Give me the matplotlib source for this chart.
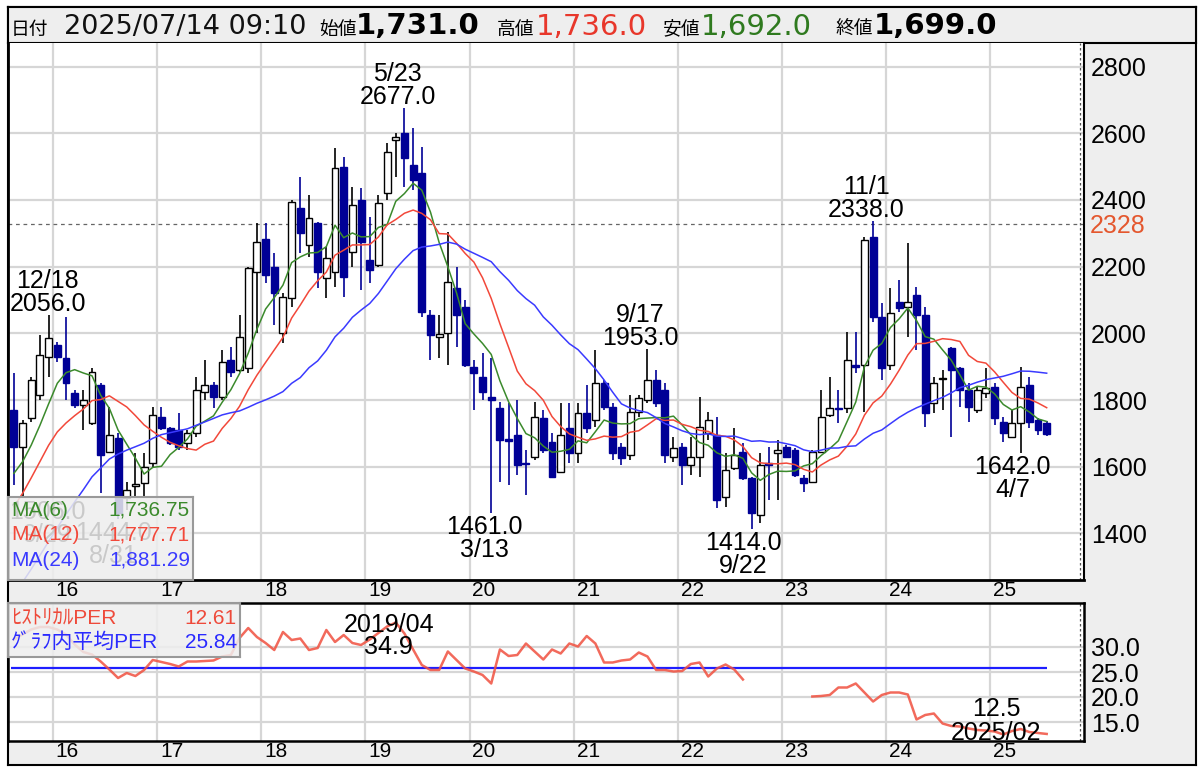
import numpy as np
import pandas as pd
import matplotlib
matplotlib.use("Agg")
import matplotlib.pyplot as plt
import matplotlib.transforms as mtransforms

plt.rcParams['font.family'] = ['Liberation Sans', 'Noto Sans CJK JP']

# ---------------- data ----------------
first_month = "2015-08"          # first monthly candle
opens = [1770, 1660, 1745, 1815, 1930, 1965, 1926, 1820, 1785, 1730,
         1845, 1645, 1686, 1505, 1543, 1550, 1610, 1750, 1715, 1710,
         1670, 1700, 1825, 1845, 1810, 1920, 1890, 1895, 2184, 2283,
         2200, 2000, 2105, 2375, 2265, 2330, 2165, 2185, 2500, 2245,
         2400, 2220, 2205, 2420, 2580, 2600, 2505, 2480, 2055, 1990,
         2000, 2135, 2080, 1900, 1870, 1810, 1775, 1682, 1695, 1612,
         1630, 1745, 1675, 1585, 1715, 1640, 1760, 1740, 1850, 1780,
         1660, 1635, 1765, 1800, 1860, 1830, 1630, 1660, 1605, 1630,
         1700, 1695, 1510, 1595, 1645, 1565, 1455, 1610, 1640, 1660,
         1650, 1565, 1555, 1645, 1755, 1777, 1775, 1905, 1905, 2290,
         2050, 1905, 2095, 2080, 2115, 2055, 1790, 1862, 1955, 1895,
         1830, 1770, 1820, 1840, 1735, 1690, 1730, 1845, 1740, 1731]
highs = [1881, 1740, 1870, 1995, 2056, 1975, 2049, 1830, 1830, 1895,
         1850, 1780, 1700, 1555, 1640, 1640, 1780, 1780, 1720, 1760,
         1710, 1870, 1920, 1855, 1950, 1960, 2055, 2200, 2332, 2332,
         2241, 2121, 2400, 2470, 2415, 2335, 2260, 2555, 2530, 2440,
         2435, 2350, 2415, 2570, 2600, 2677, 2615, 2560, 2070, 2055,
         2305, 2200, 2100, 1920, 1940, 1925, 1795, 1790, 1800, 1650,
         1795, 1770, 1700, 1790, 1790, 1790, 1845, 1950, 1860, 1790,
         1670, 1815, 1815, 1953, 1890, 1850, 1690, 1670, 1690, 1810,
         1765, 1750, 1640, 1715, 1670, 1570, 1640, 1660, 1680, 1665,
         1655, 1575, 1650, 1830, 1870, 1830, 2005, 2005, 2290, 2338,
         2090, 2135, 2160, 2270, 2140, 2080, 1870, 1890, 1960, 1900,
         1850, 1840, 1895, 1850, 1750, 1770, 1900, 1870, 1745, 1736]
lows = [1545, 1506, 1735, 1800, 1870, 1915, 1800, 1775, 1710, 1725,
        1520, 1640, 1444, 1470, 1510, 1510, 1600, 1710, 1665, 1650,
        1650, 1690, 1800, 1775, 1800, 1870, 1885, 1880, 2000, 2150,
        2025, 1970, 2080, 2240, 2230, 2135, 2105, 2140, 2110, 2200,
        2130, 2150, 2200, 2400, 2470, 2440, 2430, 2050, 1920, 1925,
        1905, 1960, 1900, 1770, 1800, 1461, 1555, 1545, 1575, 1515,
        1620, 1640, 1565, 1580, 1610, 1610, 1700, 1720, 1770, 1620,
        1605, 1620, 1750, 1790, 1780, 1610, 1615, 1545, 1575, 1570,
        1680, 1475, 1480, 1590, 1560, 1414, 1430, 1500, 1500, 1625,
        1570, 1525, 1550, 1640, 1750, 1730, 1760, 1880, 1765, 2035,
        1860, 1890, 2065, 1990, 1950, 1720, 1760, 1770, 1690, 1780,
        1735, 1760, 1805, 1725, 1675, 1685, 1642, 1715, 1695, 1692]
closes = [1660, 1730, 1860, 1935, 1986, 1930, 1850, 1785, 1800, 1885,
          1635, 1695, 1460, 1530, 1548, 1600, 1755, 1715, 1670, 1660,
          1700, 1830, 1845, 1810, 1915, 1885, 1990, 2197, 2275, 2175,
          2120, 2110, 2395, 2300, 2345, 2185, 2225, 2495, 2170, 2385,
          2275, 2190, 2390, 2545, 2590, 2525, 2460, 2065, 1995, 1998,
          2155, 2055, 1905, 1880, 1825, 1800, 1680, 1678, 1605, 1608,
          1750, 1650, 1570, 1695, 1640, 1760, 1715, 1850, 1780, 1640,
          1625, 1765, 1805, 1860, 1790, 1635, 1655, 1605, 1630, 1720,
          1740, 1500, 1590, 1635, 1565, 1460, 1605, 1605, 1650, 1630,
          1575, 1550, 1645, 1750, 1775, 1772, 1920, 1900, 2280, 2050,
          1895, 2060, 2075, 2095, 2055, 1760, 1850, 1867, 1890, 1830,
          1780, 1830, 1835, 1745, 1700, 1730, 1840, 1735, 1710, 1699]
prior_closes = [900, 920, 950, 980, 940, 900, 880, 920, 960, 1000, 1050, 1100,
                1250, 1300, 1350, 1400, 1450, 1530,
                1520, 1560, 1580, 1600, 1560]

per = [31.5, 32.5, 33.5, 34.0, 34.0, 33.5, 32.5, 30.5, 29.0, 28.5,
       27.1, 25.5, 23.8, 24.8, 24.2, 25.4, 27.4, 27.0, 26.6, 26.1,
       27.1, 27.1, 27.2, 27.3, 28.1, 28.4, 31.8, 33.8, 32.0, 30.8,
       29.4, 33.0, 31.4, 31.7, 29.4, 29.8, 33.4, 31.0, 32.4, 30.8,
       30.4, 31.5, 32.8, 34.1, 34.9, 32.7, 29.5, 26.4, 25.4, 25.4,
       29.1, 27.4, 25.7, 25.1, 24.4, 22.7, 29.5, 28.2, 28.4, 30.7,
       29.1, 27.5, 29.5, 28.7, 30.7, 30.1, 32.2, 30.7, 26.9, 26.9,
       27.3, 27.5, 28.9, 28.1, 25.4, 25.4, 25.1, 25.2, 26.6, 26.9,
       24.1, 25.7, 26.5, 25.5, 23.5, np.nan, np.nan, np.nan, np.nan, np.nan,
       np.nan, np.nan, 20.1, 20.2, 20.4, 21.9, 21.9, 22.7, 20.9, 19.1,
       20.4, 20.9, 20.9, 20.5, 15.5, 16.4, 16.7, 14.7, 14.2, 14.1,
       13.7, 13.4, 13.3, 13.1, 12.5, 13.2, 13.6, 13.0, 12.8, 12.61]
per_average = 25.84

ma_periods = [6, 12, 24]
ma_values_text = ["1,736.75", "1,777.71", "1,881.29"]
year_labels = ["16", "17", "18", "19", "20", "21", "22", "23", "24", "25"]
price_ticks = [1400, 1600, 1800, 2000, 2200, 2400, 2600, 2800]
per_ticks = [15.0, 20.0, 25.0, 30.0]
reference_price = 2328

# (candle index, date text, horizontal text shift in px)
high_labels = [(4, "12/18", -1), (45, "5/23", -7), (73, "9/17", -7), (99, "11/1", -7)]
low_labels = [(1, "9/29", 25), (12, "8/31", -5), (55, "3/13", -7), (85, "9/22", -8), (116, "4/7", -8)]

header_items = [("日付", "label"), ("2025/07/14 09:10", "date"),
                ("始値", "label"), ("1,731.0", "open"),
                ("高値", "label"), ("1,736.0", "high"),
                ("安値", "label"), ("1,692.0", "low"),
                ("終値", "label"), ("1,699.0", "close")]

# ---------------- style / layout ----------------
W, H = 1200, 767
BG = '#eeeeee'
GRID = '#d6d6d6'
NAVY = '#000096'
C_MA = ['#3b8a2c', '#f2483a', '#3a3aff']
PER_RED = '#f0503f'
AVG_BLUE = '#1e1eff'

n = len(closes)
idx = np.arange(n)
xlim = (-0.68, 123.3)
now_x = 122.8
year_starts = 4.5 + 12 * np.arange(len(year_labels))
year_label_pos = year_starts + 1.67

O = np.array(opens, float); Hh = np.array(highs, float)
L = np.array(lows, float); C = np.array(closes, float)

fig = plt.figure(figsize=(W / 100, H / 100), dpi=100)


def box(x0, y0, x1, y1):
    return [x0 / W, 1 - y1 / H, (x1 - x0) / W, (y1 - y0) / H]


def plain(ax):
    ax.set_xticks([]); ax.set_yticks([])


# background frame
bg = fig.add_axes(box(8, 7, 1196, 765), zorder=0)
bg.set_facecolor(BG); plain(bg)
for s in bg.spines.values():
    s.set_color('black'); s.set_linewidth(1.5)

# header
hd = fig.add_axes(box(8, 7, 1196, 43), zorder=1)
hd.set_facecolor(BG); plain(hd)
for s in hd.spines.values():
    s.set_color('black'); s.set_linewidth(1.5)

hx = [11, 64, 319, 356, 497, 536, 663, 701, 835, 874]
NUMF = ['DejaVu Sans']
styles = {
    "label": dict(size=13.5, color='black'),
    "date": dict(size=19.5, color='#111111', family=NUMF),
    "open": dict(size=21, color='black', weight='bold', family=NUMF),
    "high": dict(size=21, color='#e8372b', family=NUMF),
    "low": dict(size=21, color='#2f7a1f', family=NUMF),
    "close": dict(size=21, color='black', weight='bold', family=NUMF),
}
for (txt, kind), x in zip(header_items, hx):
    fig.text(x / W, 1 - 34.5 / H, txt, ha='left', va='baseline', **styles[kind])

# ---------------- main price panel ----------------
ax = fig.add_axes(box(8, 43, 1084, 580), zorder=2)
ax.set_facecolor('white')
ax.set_xlim(*xlim)
ax.set_ylim(1260.3, 2870.5)
for y in price_ticks:
    ax.axhline(y, color=GRID, lw=1.6, zorder=0)
for x in year_starts:
    ax.axvline(x, color=GRID, lw=1.6, zorder=0)
ax.axhline(reference_price, color='#666666', lw=0.9, ls=(0, (3, 3)), zorder=1)
ax.axvline(now_x, color='#555555', lw=0.9, ls=(0, (2, 2)), zorder=1)

up = C >= O
ax.vlines(idx, L, Hh, colors=np.where(up, 'black', NAVY), lw=1.2, zorder=2)
body_h = np.maximum(np.abs(C - O), 1.5)
ax.bar(idx, body_h, bottom=np.minimum(O, C), width=0.8,
       color=np.where(up, 'white', NAVY), edgecolor=np.where(up, 'black', NAVY),
       lw=1.0, zorder=3)

all_close = pd.Series(list(prior_closes) + list(closes), dtype=float)
for p, col in zip(ma_periods, C_MA):
    ma = all_close.rolling(p).mean().to_numpy()[-n:]
    ax.plot(idx, ma, color=col, lw=1.1, zorder=4)

ax.yaxis.tick_right()
ax.set_yticks(price_ticks)
ax.set_yticklabels([str(t) for t in price_ticks], fontsize=18)
ax.tick_params(axis='y', length=0, pad=5)
ax.set_xticks(year_label_pos)
ax.set_xticklabels(year_labels, fontsize=15)
ax.tick_params(axis='x', length=0, pad=1)
ax.spines['top'].set_visible(False)
ax.spines['left'].set_linewidth(2)
ax.spines['bottom'].set_linewidth(2)
ax.spines['right'].set_linewidth(1.5)

tr = mtransforms.blended_transform_factory(ax.transAxes, ax.transData)
ax.text(1 + 6 / 1076, reference_price, str(reference_price), transform=tr,
        ha='left', va='center_baseline', fontsize=18, color='#e4572e', clip_on=False)

for i, d, dx in high_labels:
    ax.annotate(f"{Hh[i]:.1f}", (i, Hh[i]), xytext=(dx, 4), textcoords='offset pixels',
                ha='center', va='baseline', fontsize=18, zorder=6)
    ax.annotate(d, (i, Hh[i]), xytext=(dx, 27), textcoords='offset pixels',
                ha='center', va='baseline', fontsize=18, zorder=6)
for i, d, dx in low_labels:
    ax.annotate(f"{L[i]:.1f}", (i, L[i]), xytext=(dx, -21), textcoords='offset pixels',
                ha='center', va='baseline', fontsize=18, zorder=6)
    ax.annotate(d, (i, L[i]), xytext=(dx, -44), textcoords='offset pixels',
                ha='center', va='baseline', fontsize=18, zorder=6)

# MA legend box
lg = fig.add_axes(box(8, 497, 193, 580), zorder=3)
plain(lg)
lg.set_facecolor(BG); lg.patch.set_alpha(0.85)
for s in lg.spines.values():
    s.set_color('#999999'); s.set_linewidth(1.5)
for k, (p, col, v) in enumerate(zip(ma_periods, C_MA, ma_values_text)):
    yy = 1 - (13 + 25 * k) / 83
    lg.text(3 / 185, yy, f"MA({p})", color=col, fontsize=15, ha='left', va='center',
            transform=lg.transAxes)
    lg.text(182 / 185, yy, v, color=col, fontsize=15, ha='right', va='center',
            transform=lg.transAxes)

# ---------------- PER panel ----------------
ap = fig.add_axes(box(8, 603, 1084, 741), zorder=2)
ap.set_facecolor('white')
ap.set_xlim(*xlim)
ap.set_ylim(11.2, 38.8)
for y in per_ticks:
    ap.axhline(y, color=GRID, lw=1.6, zorder=0)
for x in year_starts:
    ap.axvline(x, color=GRID, lw=1.6, zorder=0)
ap.axvline(now_x, color='#555555', lw=0.9, ls=(0, (2, 2)), zorder=1)
per_arr = np.array(per, float)
ap.plot(idx, per_arr, color=PER_RED, lw=1.8, alpha=0.85, zorder=3)
ap.hlines(per_average, idx[0] - 0.3, idx[-1], color=AVG_BLUE, lw=1.6, zorder=2)
ap.yaxis.tick_right()
ap.set_yticks(per_ticks)
ap.set_yticklabels([f"{t:.1f}" for t in per_ticks], fontsize=18)
ap.tick_params(axis='y', length=0, pad=5)
ap.set_xticks(year_label_pos)
ap.set_xticklabels(year_labels, fontsize=15)
ap.tick_params(axis='x', length=0, pad=1)
for s in ap.spines.values():
    s.set_linewidth(1.8)

months = pd.period_range(first_month, periods=n, freq='M')
imax = int(np.nanargmax(per_arr)); imin = int(np.nanargmin(per_arr))
ap.annotate(f"{months[imax].year}/{months[imax].month:02d}", (imax, per_arr[imax]),
            xytext=(-7, -9), textcoords='offset pixels', ha='center', va='baseline', fontsize=18, zorder=6)
ap.annotate(f"{per_arr[imax]:.1f}", (imax, per_arr[imax]),
            xytext=(-7, -31), textcoords='offset pixels', ha='center', va='baseline', fontsize=18, zorder=6)
ap.annotate(f"{per_arr[imin]:.1f}", (imin, per_arr[imin]),
            xytext=(-7, 18), textcoords='offset pixels', ha='center', va='baseline', fontsize=18, zorder=6)
ap.annotate(f"{months[imin].year}/{months[imin].month:02d}", (imin, per_arr[imin]),
            xytext=(-7, -5), textcoords='offset pixels', ha='center', va='baseline', fontsize=18, zorder=6)

# PER legend box
pl = fig.add_axes(box(8, 603, 240, 657), zorder=3)
plain(pl)
pl.set_facecolor(BG); pl.patch.set_alpha(0.85)
for s in pl.spines.values():
    s.set_color('#999999'); s.set_linewidth(1.5)
pl.text(3 / 232, 0.72, "ﾋｽﾄﾘｶﾙPER", color='#ee4a3a', fontsize=15, ha='left', va='center', transform=pl.transAxes)
pl.text(229 / 232, 0.72, f"{per_arr[-1]:.2f}", color='#ee4a3a', fontsize=15, ha='right', va='center', transform=pl.transAxes)
pl.text(3 / 232, 0.27, "ｸﾞﾗﾌ内平均PER", color='#2a2aff', fontsize=15, ha='left', va='center', transform=pl.transAxes)
pl.text(229 / 232, 0.27, f"{per_average:.2f}", color='#2a2aff', fontsize=15, ha='right', va='center', transform=pl.transAxes)

fig.savefig("out.png", dpi=100)
